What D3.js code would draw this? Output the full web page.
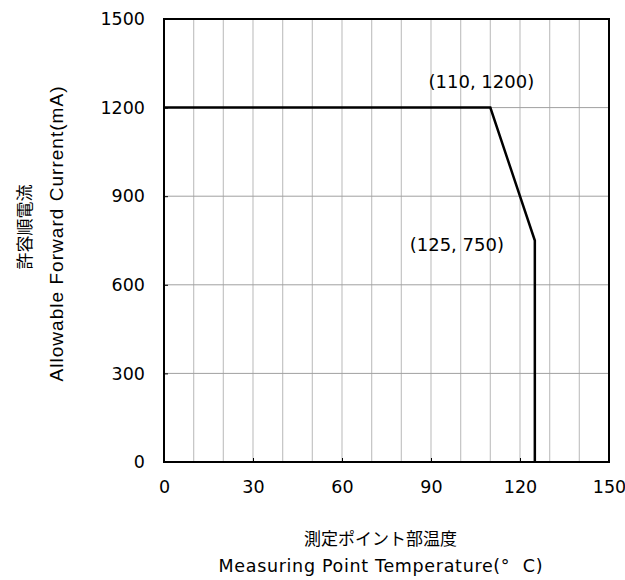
<!DOCTYPE html>
<html>
<head>
<meta charset="utf-8">
<script src="https://cdn.jsdelivr.net/npm/d3@7"></script>
<style>
  body { margin: 0; background: #fff; }
  svg { display: block; }
</style>
</head>
<body>
<div id="chart"></div>
<script>
// derating curve
const temps = [0, 110, 125, 125];
const currents = [1200, 1200, 750, 0];
const xTicks = [0, 30, 60, 90, 120, 150];
const yTicks = [0, 300, 600, 900, 1200, 1500];
const xGrid = d3.range(10, 150, 10);
const noteTemps = [110, 125];
const noteCurrents = [1200, 750];
const noteLabels = ["(110, 1200)", "(125, 750)"];

const width = 625, height = 580;
const margin = {top: 19, right: 16, bottom: 118, left: 164};
const font = "'DejaVu Sans', Verdana, sans-serif";

const svg = d3.select("#chart").append("svg")
    .attr("width", width)
    .attr("height", height);

const x = d3.scaleLinear().domain([0, 150]).range([margin.left, width - margin.right]);
const y = d3.scaleLinear().domain([0, 1500]).range([height - margin.bottom, margin.top]);

// grid
svg.append("g")
    .selectAll("line")
    .data(xGrid)
    .join("line")
        .attr("x1", d => x(d)).attr("x2", d => x(d))
        .attr("y1", y(0)).attr("y2", y(1500))
        .attr("stroke", "#c4c4c4")
        .attr("stroke-width", 1.2);

svg.append("g")
    .selectAll("line")
    .data(yTicks.slice(1, -1))
    .join("line")
        .attr("x1", x(0)).attr("x2", x(150))
        .attr("y1", d => y(d)).attr("y2", d => y(d))
        .attr("stroke", "#a0a0a0")
        .attr("stroke-width", 1);

// axes
const xAxis = d3.axisBottom(x).tickValues(xTicks).tickFormat(d3.format("d"))
    .tickSize(-4).tickPadding(19);
const yAxis = d3.axisLeft(y).tickValues(yTicks).tickFormat(d3.format("d"))
    .tickSize(-4).tickPadding(19);

svg.append("g")
    .attr("transform", `translate(0,${y(0)})`)
    .call(xAxis)
    .call(g => g.select(".domain").remove())
    .call(g => g.selectAll(".tick line").attr("stroke", "#000"))
    .call(g => g.selectAll("text")
        .style("font", `17.5px ${font}`)
        .attr("fill", "#000"));

svg.append("g")
    .attr("transform", `translate(${x(0)},0)`)
    .call(yAxis)
    .call(g => g.select(".domain").remove())
    .call(g => g.selectAll(".tick line").attr("stroke", "#000"))
    .call(g => g.selectAll("text")
        .style("font", `17.5px ${font}`)
        .attr("fill", "#000"));

// frame
svg.append("rect")
    .attr("x", x(0))
    .attr("y", y(1500))
    .attr("width", x(150) - x(0))
    .attr("height", y(0) - y(1500))
    .attr("fill", "none")
    .attr("stroke", "#000")
    .attr("stroke-width", 2);

// curve
const line = d3.line()
    .x((d, i) => x(temps[i]))
    .y((d, i) => y(currents[i]));

svg.append("path")
    .datum(temps)
    .attr("d", line)
    .attr("fill", "none")
    .attr("stroke", "#000")
    .attr("stroke-width", 2.5)
    .attr("stroke-linejoin", "miter");

// point notes
const noteDx = [-9, -78], noteDy = [-20, 10];
svg.append("g")
    .style("font", `18px ${font}`)
    .selectAll("text")
    .data(noteLabels)
    .join("text")
        .attr("x", (d, i) => x(noteTemps[i]) + noteDx[i])
        .attr("y", (d, i) => y(noteCurrents[i]) + noteDy[i])
        .attr("text-anchor", "middle")
        .attr("fill", "#000")
        .text(d => d);

// axis titles
const cx = (x(0) + x(150)) / 2 - 6;
svg.append("text")
    .attr("x", cx).attr("y", 545)
    .attr("text-anchor", "middle")
    .style("font", "17px 'Noto Sans CJK JP', sans-serif")
    .text("測定ポイント部温度");
svg.append("text")
    .attr("x", cx).attr("y", 572)
    .attr("text-anchor", "middle")
    .attr("textLength", 324)
    .attr("lengthAdjust", "spacing")
    .style("font", `17.5px ${font}`)
    .style("white-space", "pre")
    .text("Measuring Point Temperature(°  C)");

svg.append("text")
    .attr("transform", `translate(31,227) rotate(-90)`)
    .attr("text-anchor", "middle")
    .style("font", "17px 'Noto Sans CJK JP', sans-serif")
    .text("許容順電流");
svg.append("text")
    .attr("transform", `translate(63,234) rotate(-90)`)
    .attr("text-anchor", "middle")
    .attr("textLength", 295)
    .attr("lengthAdjust", "spacing")
    .style("font", "19px 'Liberation Sans', Arial, sans-serif")
    .text("Allowable Forward Current(mA)");
</script>
</body>
</html>
